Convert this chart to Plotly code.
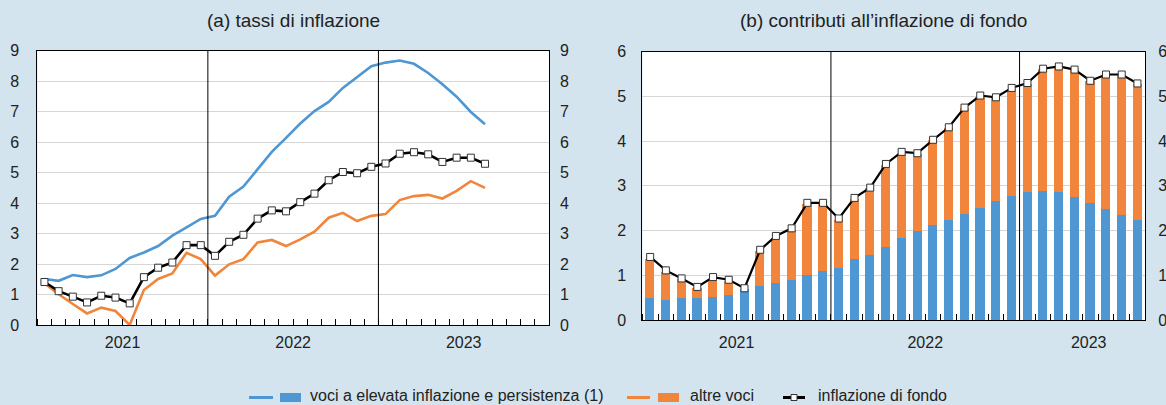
import plotly.graph_objects as go

# ---------------- data ----------------
mesi = ["2021-01", "2021-02", "2021-03", "2021-04", "2021-05", "2021-06",
        "2021-07", "2021-08", "2021-09", "2021-10", "2021-11", "2021-12",
        "2022-01", "2022-02", "2022-03", "2022-04", "2022-05", "2022-06",
        "2022-07", "2022-08", "2022-09", "2022-10", "2022-11", "2022-12",
        "2023-01", "2023-02", "2023-03", "2023-04", "2023-05", "2023-06",
        "2023-07", "2023-08"]

anni = ["2021", "2022", "2023"]

# (a) tassi di inflazione
tasso_alta = [1.51, 1.45, 1.64, 1.57, 1.63, 1.84, 2.20, 2.38, 2.59, 2.93, 3.20, 3.48,
              3.58, 4.21, 4.54, 5.10, 5.68, 6.14, 6.61, 7.02, 7.32, 7.78, 8.14, 8.49,
              8.61, 8.68, 8.57, 8.27, 7.90, 7.49, 6.99, 6.59]
tasso_altre = [1.37, 1.01, 0.69, 0.38, 0.57, 0.46, 0.00, 1.15, 1.51, 1.69, 2.37, 2.16,
               1.62, 1.99, 2.16, 2.71, 2.79, 2.59, 2.81, 3.06, 3.52, 3.68, 3.41, 3.58,
               3.64, 4.10, 4.23, 4.27, 4.15, 4.40, 4.72, 4.50]
inflazione_fondo = [1.41, 1.11, 0.93, 0.74, 0.96, 0.90, 0.71, 1.57, 1.88, 2.05, 2.62, 2.62,
                    2.27, 2.73, 2.96, 3.49, 3.76, 3.73, 4.03, 4.31, 4.75, 5.02, 4.98, 5.19,
                    5.30, 5.62, 5.67, 5.60, 5.35, 5.49, 5.49, 5.29]

# (b) contributi all'inflazione di fondo
contrib_alta = [0.50, 0.46, 0.50, 0.50, 0.51, 0.56, 0.69, 0.77, 0.83, 0.91, 1.02, 1.10,
                1.16, 1.36, 1.45, 1.64, 1.85, 2.00, 2.14, 2.25, 2.38, 2.52, 2.66, 2.78,
                2.87, 2.90, 2.86, 2.75, 2.62, 2.49, 2.36, 2.25]
contrib_altre = [0.88, 0.63, 0.42, 0.23, 0.42, 0.31, 0.01, 0.78, 1.02, 1.12, 1.59, 1.51,
                 1.09, 1.35, 1.50, 1.83, 1.87, 1.72, 1.89, 2.04, 2.36, 2.48, 2.31, 2.40,
                 2.41, 2.71, 2.81, 2.85, 2.73, 2.98, 3.12, 3.03]

# ---------------- style ----------------
BLUE = "#4f97d3"
ORANGE = "#f2853c"
BG = "#d3e4ee"
GRID = "#d6d6d6"
TXT = "#222222"
FONT = "Liberation Sans, Arial, Helvetica, sans-serif"

# the paper is a bit wider than the 1166 px view so that the right-hand
# tick labels of panel (b) are drawn and then cropped by the window edge
W, H = 1182, 405
xpos = [i + 0.5 for i in range(len(mesi))]  # month centres on a monthly index axis

fig = go.Figure()

# panel (a)
fig.add_trace(go.Scatter(x=xpos, y=tasso_alta, mode="lines", line=dict(color=BLUE, width=2.6),
                         xaxis="x", yaxis="y", showlegend=False, customdata=mesi))
fig.add_trace(go.Scatter(x=xpos, y=tasso_altre, mode="lines", line=dict(color=ORANGE, width=2.6),
                         xaxis="x", yaxis="y", showlegend=False, customdata=mesi))
fig.add_trace(go.Scatter(x=xpos, y=inflazione_fondo, mode="lines+markers",
                         line=dict(color="black", width=2.6),
                         marker=dict(symbol="square", size=7, color="white",
                                     line=dict(color="#333333", width=1)),
                         xaxis="x", yaxis="y", showlegend=False, customdata=mesi))

# panel (b)
fig.add_trace(go.Bar(x=xpos, y=contrib_alta, marker=dict(color=BLUE, line=dict(width=0)),
                     width=0.58, xaxis="x2", yaxis="y2", showlegend=False, customdata=mesi))
fig.add_trace(go.Bar(x=xpos, y=contrib_altre, marker=dict(color=ORANGE, line=dict(width=0)),
                     width=0.58, xaxis="x2", yaxis="y2", showlegend=False, customdata=mesi))
fig.add_trace(go.Scatter(x=xpos, y=inflazione_fondo, mode="lines+markers",
                         line=dict(color="black", width=2.2),
                         marker=dict(symbol="square", size=7, color="white",
                                     line=dict(color="#333333", width=1)),
                         xaxis="x2", yaxis="y2", showlegend=False, customdata=mesi))

# invisible companions so that the mirrored right-hand value axes are drawn
fig.add_trace(go.Scatter(x=xpos, y=inflazione_fondo, mode="lines", opacity=0,
                         line=dict(width=0), hoverinfo="skip",
                         xaxis="x", yaxis="y3", showlegend=False))
fig.add_trace(go.Scatter(x=xpos, y=inflazione_fondo, mode="lines", opacity=0,
                         line=dict(width=0), hoverinfo="skip",
                         xaxis="x2", yaxis="y4", showlegend=False))

def px_x(p):
    return p / W

def px_y(p):
    return 1 - p / H

tickfont = dict(family=FONT, size=16, color=TXT)

xcommon = dict(showgrid=False, zeroline=False, showline=True, linecolor="black", linewidth=1,
               mirror=True, ticks="outside", ticklen=0, tickfont=tickfont,
               automargin=False, ticklabeloverflow="allow",
               minor=dict(dtick=1, tick0=0, ticks="inside", ticklen=6,
                          tickcolor="black", tickwidth=1, showgrid=False))
ycommon = dict(showgrid=True, gridcolor=GRID, gridwidth=1, zeroline=False, showline=True,
               linecolor="black", linewidth=1, mirror=True, ticks="", dtick=1,
               tickfont=tickfont, automargin=False, ticklabeloverflow="allow")
yright = dict(showgrid=False, zeroline=False, showline=False, ticks="", dtick=1,
              tickfont=tickfont, automargin=False, ticklabeloverflow="allow")

fig.update_layout(
    xaxis=dict(domain=[px_x(37.3), px_x(549)], range=[0, 36], anchor="y",
               tickvals=[6, 18, 30], ticktext=anni, ticklabelstandoff=3, **xcommon),
    yaxis=dict(domain=[px_y(325), px_y(50.7)], range=[0, 9], anchor="x",
               ticklabelstandoff=14, **ycommon),
    yaxis3=dict(overlaying="y", anchor="x", side="right", range=[0, 9],
                ticklabelstandoff=10, **yright),
    xaxis2=dict(domain=[px_x(642.3), px_x(1145.3)], range=[0, 32], anchor="y2",
                tickvals=[6, 18, 28.4], ticktext=anni, ticklabelstandoff=8, **xcommon),
    yaxis2=dict(domain=[px_y(320), px_y(51.7)], range=[0, 6], anchor="x2",
                ticklabelstandoff=12, **ycommon),
    yaxis4=dict(overlaying="y2", anchor="x2", side="right",
                range=[0, 6], ticklabelstandoff=12, **yright),
    barmode="relative",
    bargap=0,
    width=W, height=H,
    margin=dict(l=0, r=0, t=0, b=0),
    paper_bgcolor=BG,
    plot_bgcolor="white",
    font=dict(family=FONT, size=16, color=TXT),
    showlegend=False,
    template="none",
)

# year separators
shapes = []
for xr, yr in (("x", "y domain"), ("x2", "y2 domain")):
    for b in (12, 24):
        shapes.append(dict(type="line", xref=xr, yref=yr, x0=b, x1=b, y0=0, y1=1,
                           line=dict(color="black", width=1), layer="above"))

# manual legend (line + swatch + text), as in the original
ly = px_y(397.5)
shapes += [
    dict(type="line", xref="paper", yref="paper", x0=px_x(249), x1=px_x(273), y0=ly, y1=ly,
         line=dict(color=BLUE, width=3)),
    dict(type="rect", xref="paper", yref="paper", x0=px_x(280), x1=px_x(301),
         y0=px_y(402), y1=px_y(393), fillcolor=BLUE, line=dict(width=0)),
    dict(type="line", xref="paper", yref="paper", x0=px_x(627), x1=px_x(650), y0=ly, y1=ly,
         line=dict(color=ORANGE, width=3)),
    dict(type="rect", xref="paper", yref="paper", x0=px_x(658), x1=px_x(679),
         y0=px_y(402), y1=px_y(393), fillcolor=ORANGE, line=dict(width=0)),
    dict(type="line", xref="paper", yref="paper", x0=px_x(783), x1=px_x(805), y0=ly, y1=ly,
         line=dict(color="black", width=3)),
    dict(type="rect", xref="paper", yref="paper", x0=px_x(791), x1=px_x(797),
         y0=px_y(400.5), y1=px_y(394.5), fillcolor="white", line=dict(color="#333333", width=1)),
]
fig.update_layout(shapes=shapes)

annotations = [
    dict(text="(a) tassi di inflazione", x=px_x(293), y=px_y(20), xref="paper", yref="paper",
         xanchor="center", yanchor="middle", showarrow=False,
         font=dict(family=FONT, size=19, color=TXT)),
    dict(text="(b) contributi all\u2019inflazione di fondo", x=px_x(883), y=px_y(20),
         xref="paper", yref="paper", xanchor="center", yanchor="middle", showarrow=False,
         font=dict(family=FONT, size=19, color=TXT)),
]
for txt, x0 in (("voci a elevata inflazione e persistenza (1)", 308),
                ("altre voci", 688), ("inflazione di fondo", 816)):
    annotations.append(dict(text=txt, x=px_x(x0), y=px_y(395.5), xref="paper", yref="paper",
                            xanchor="left", yanchor="middle", showarrow=False,
                            font=dict(family=FONT, size=16, color=TXT)))
fig.update_layout(annotations=annotations)

fig.write_html(
    "out.html",
    config={"displayModeBar": False},
    post_script="document.body.style.margin='0';document.body.style.overflow='hidden';",
)
